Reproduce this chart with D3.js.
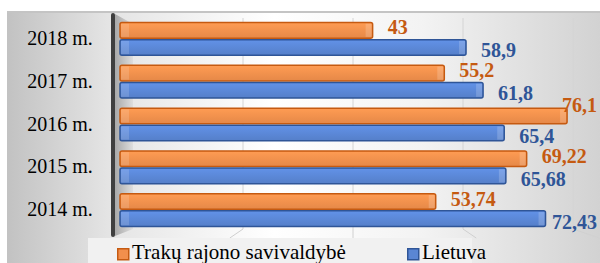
<!DOCTYPE html>
<html>
<head>
<meta charset="utf-8">
<script src="https://cdn.jsdelivr.net/npm/d3@7"></script>
<style>
	body { margin: 0; background: #fff; }
	svg text { font-family: "Liberation Serif", "Times New Roman", serif; }
</style>
</head>
<body>
<div id="chart"></div>
<script>
// chart data
let years = ["2018 m.", "2017 m.", "2016 m.", "2015 m.", "2014 m."];
let trakai = [43, 55.2, 76.1, 69.22, 53.74];
let trakaiLabels = ["43", "55,2", "76,1", "69,22", "53,74"];
let lietuva = [58.9, 61.8, 65.4, 65.68, 72.43];
let lietuvaLabels = ["58,9", "61,8", "65,4", "65,68", "72,43"];
let seriesNames = ["Trakų rajono savivaldybė", "Lietuva"];
let gridTicks = [20, 40, 60, 80];

let fills = ["#f28f4c", "#5a86d4"];
let strokes = ["#c55a11", "#2f5597"];

let width = 600, height = 263;

let svg = d3.select("#chart").append("svg")
	.attr("width", width)
	.attr("height", height);

let defs = svg.append("defs");

// background gradient (3d chart area)
let bg = defs.append("linearGradient").attr("id", "bgGrad");
bg.append("stop").attr("offset", "0%").attr("stop-color", "#c2c2c2");
bg.append("stop").attr("offset", "17%").attr("stop-color", "#e4e4e4");
bg.append("stop").attr("offset", "45%").attr("stop-color", "#ffffff");
bg.append("stop").attr("offset", "70%").attr("stop-color", "#f3f3f3");
bg.append("stop").attr("offset", "100%").attr("stop-color", "#d2d2d2");

let side = defs.append("linearGradient").attr("id", "sideGrad");
side.append("stop").attr("offset", "0%").attr("stop-color", "#a9a9a9");
side.append("stop").attr("offset", "100%").attr("stop-color", "#dedede");

// bar gradients, one per series
fills.forEach((c, i) => {
	let g = defs.append("linearGradient").attr("id", "barGrad" + i)
		.attr("x1", 0).attr("y1", 0).attr("x2", 0).attr("y2", 1);
	g.append("stop").attr("offset", "0%").attr("stop-color", d3.color(c).brighter(0.25));
	g.append("stop").attr("offset", "100%").attr("stop-color", d3.color(c).darker(0.15));
});

svg.append("rect")
	.attr("x", 7).attr("y", 11)
	.attr("width", width - 7).attr("height", height - 11)
	.attr("fill", "url(#bgGrad)");

svg.append("line")
	.attr("x1", 7).attr("x2", width)
	.attr("y1", 12).attr("y2", 12)
	.attr("stroke", "#c4c4c4").attr("stroke-width", 2);

// scales
let x = d3.scaleLinear().domain([0, 80]).range([120, 590]);
let xBack = d3.scaleLinear().domain([0, 80]).range([133, 573]);
let y = d3.scaleBand().domain(years).range([17.5, 231.5]).paddingInner(0.2).paddingOuter(0.1);
let ySub = d3.scaleBand().domain(seriesNames).range([0, y.bandwidth()]);

// back wall gridlines + floor lines
let grid = svg.append("g");
grid.selectAll(".gl")
	.data(gridTicks)
	.enter()
	.append("line")
	.attr("x1", d => xBack(d)).attr("x2", d => xBack(d))
	.attr("y1", 18).attr("y2", 229)
	.attr("stroke", "#d4d4d4").attr("stroke-width", 1);
grid.selectAll(".fl")
	.data(gridTicks)
	.enter()
	.append("line")
	.attr("x1", d => xBack(d)).attr("y1", 229)
	.attr("x2", d => xBack(d) + (xBack(d) - xBack(40)) * 0.12).attr("y2", 238)
	.attr("stroke", "#d0d0d0").attr("stroke-width", 1);

// side wall of the 3d plot
svg.append("path")
	.attr("d", "M115,14 L133,24 L133,229 L115,236 Z")
	.attr("fill", "url(#sideGrad)");

// axis wall edge
svg.append("rect")
	.attr("x", 111).attr("y", 13)
	.attr("width", 4).attr("height", 224)
	.attr("rx", 2)
	.attr("fill", "#3f3f3f");

// category labels
svg.selectAll(".cat")
	.data(years)
	.enter()
	.append("text")
	.attr("class", "cat")
	.attr("x", 60)
	.attr("y", d => y(d) + y.bandwidth() / 2 + 6)
	.attr("text-anchor", "middle")
	.attr("font-size", 20)
	.attr("fill", "#000")
	.text(d => d);

// bars
let series = [
	{ name: seriesNames[0], values: trakai, labels: trakaiLabels },
	{ name: seriesNames[1], values: lietuva, labels: lietuvaLabels }
];

series.forEach((s, si) => {
	let g = svg.append("g");
	let rows = years.map((yr, i) => ({ yr: yr, v: s.values[i], lab: s.labels[i] }));
	let h = ySub.bandwidth();

	g.selectAll(".bar")
		.data(rows)
		.enter()
		.append("rect")
		.attr("x", x(0))
		.attr("y", d => y(d.yr) + ySub(s.name) + 0.75)
		.attr("width", d => x(d.v) - x(0))
		.attr("height", h - 1.5)
		.attr("rx", 2)
		.attr("fill", "url(#barGrad" + si + ")")
		.attr("stroke", strokes[si])
		.attr("stroke-width", 1.5);

	// light strips at both ends (3d faces)
	g.selectAll(".capL")
		.data(rows)
		.enter()
		.append("rect")
		.attr("x", x(0) + 1)
		.attr("y", d => y(d.yr) + ySub(s.name) + 2)
		.attr("width", 8)
		.attr("height", h - 4)
		.attr("fill", "#fff").attr("opacity", 0.15);
	g.selectAll(".capR")
		.data(rows)
		.enter()
		.append("rect")
		.attr("x", d => x(d.v) - 7)
		.attr("y", d => y(d.yr) + ySub(s.name) + 2)
		.attr("width", 6)
		.attr("height", h - 4)
		.attr("fill", "#fff").attr("opacity", 0.18);

	// value labels
	g.selectAll(".val")
		.data(rows)
		.enter()
		.append("text")
		.attr("font-size", 20)
		.attr("font-weight", "bold")
		.attr("fill", strokes[si])
		.text(d => d.lab)
		.each(function(d) {
			let w = this.getComputedTextLength();
			let end = x(d.v);
			let tx = Math.min(end + 15, 597 - w);
			let ty = y(d.yr) + ySub(s.name) + h / 2 + 7 + (si == 0 ? -3 : 3);
			if (tx < end) ty += (si == 0 ? -8 : 8);
			d3.select(this).attr("x", tx).attr("y", ty);
		});
});

// legend
let legend = svg.append("g");
legend.append("rect")
	.attr("x", 88).attr("y", 238)
	.attr("width", 384).attr("height", 25)
	.attr("fill", "#f1f1f1");

let legX = [117, 407];
series.forEach((s, i) => {
	legend.append("rect")
		.attr("x", legX[i] + 0.75).attr("y", 248.75)
		.attr("width", 11).attr("height", 11)
		.attr("fill", fills[i])
		.attr("stroke", strokes[i]).attr("stroke-width", 1.5);
	legend.append("text")
		.attr("x", legX[i] + 15)
		.attr("y", 259)
		.attr("font-size", 21)
		.attr("fill", "#000")
		.text(s.name);
});
</script>
</body>
</html>
